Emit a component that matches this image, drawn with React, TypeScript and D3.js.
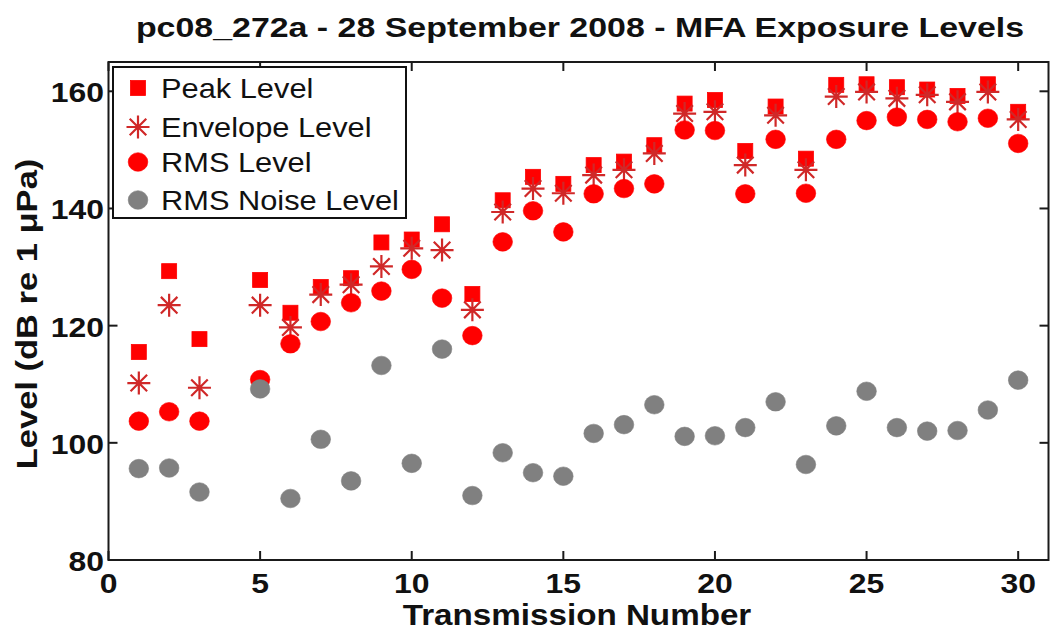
import React from "react";
import * as d3 from "d3";

const transmissions = [1, 2, 3, 5, 6, 7, 8, 9, 10, 11, 12, 13, 14, 15, 16, 17, 18, 19, 20, 21, 22, 23, 24, 25, 26, 27, 28, 29, 30];
const peakLevel = [115.5, 129.3, 117.7, 127.8, 122.2, 126.6, 128.1, 134.2, 134.7, 137.3, 125.4, 141.4, 145.4, 144.2, 147.4, 148.0, 150.8, 157.9, 158.5, 149.8, 157.4, 148.5, 161.1, 161.2, 160.7, 160.3, 159.2, 161.2, 156.5];
const envelopeLevel = [110.2, 123.5, 109.4, 123.5, 119.7, 125.3, 127.0, 130.1, 133.2, 132.9, 122.7, 139.4, 143.4, 142.6, 145.7, 146.6, 149.4, 156.2, 156.5, 147.4, 155.9, 146.6, 159.1, 159.9, 158.8, 159.4, 158.2, 159.9, 155.2];
const rmsLevel = [103.7, 105.3, 103.7, 110.8, 116.9, 120.7, 123.9, 125.9, 129.6, 124.7, 118.3, 134.3, 139.6, 136.0, 142.5, 143.4, 144.2, 153.4, 153.3, 142.5, 151.8, 142.6, 151.8, 155.0, 155.6, 155.2, 154.8, 155.4, 151.1];
const noiseLevel = [95.6, 95.7, 91.6, 109.2, 90.5, 100.6, 93.5, 113.2, 96.5, 116.0, 91.0, 98.3, 94.9, 94.3, 101.6, 103.1, 106.5, 101.1, 101.2, 102.6, 107.0, 96.3, 102.9, 108.8, 102.6, 102.0, 102.1, 105.6, 110.7];
const xTicks = [0, 5, 10, 15, 20, 25, 30];
const yTicks = [80, 100, 120, 140, 160];
const legendLabels = ["Peak Level", "Envelope Level", "RMS Level", "RMS Noise Level"];
const titleText = "pc08_272a - 28 September 2008 - MFA Exposure Levels";
const xLabel = "Transmission Number";
const yLabel = "Level (dB re 1 \u03BCPa)";

const W = 1051;
const H = 632;
const M = { left: 108.5, right: 1048.5, top: 62, bottom: 560 };
const FONT = "'Liberation Sans', Arial, Helvetica, sans-serif";
const RED = "#ff0000";
const STAR = "#d02828";
const GRAY = "#808080";
const SX = 1.15;

const x = d3.scaleLinear().domain([0, 31]).range([M.left, M.right]);
const y = d3.scaleLinear().domain([80, 165]).range([M.bottom, M.top]);

function Square({ cx, cy }: { cx: number; cy: number }) {
  const s = 15;
  return <rect x={cx - s / 2} y={cy - s / 2} width={s} height={s} fill={RED} stroke={RED} strokeWidth={0.8} />;
}
function Star({ cx, cy }: { cx: number; cy: number }) {
  const r = 11.5;
  const d = r * 0.72;
  const p = `M${cx - r},${cy}L${cx + r},${cy}M${cx},${cy - r}L${cx},${cy + r}M${cx - d},${cy - d}L${cx + d},${cy + d}M${cx - d},${cy + d}L${cx + d},${cy - d}`;
  return <path d={p} stroke={STAR} strokeWidth={2.2} fill="none" />;
}
function Dot({ cx, cy, color }: { cx: number; cy: number; color: string }) {
  return <ellipse cx={cx} cy={cy} rx={9.8} ry={9.3} fill={color} stroke={color} strokeWidth={0.6} />;
}

function SText(props: { x: number; y: number; size: number; anchor?: string; weight?: string; children: React.ReactNode; sx?: number }) {
  const { x: tx, y: ty, size, anchor = "start", weight = "bold", children, sx = SX } = props;
  return (
    <text transform={`translate(${tx},${ty}) scale(${sx},1)`} fontSize={size} fontFamily={FONT} fontWeight={weight} textAnchor={anchor} fill="#111">
      {children}
    </text>
  );
}

export default function App() {
  const tickLen = 9;
  const legendX = 113;
  const legendY = 67;
  const legendW = 293;
  const legendH = 151;
  const legendRows = [88, 127, 162, 200];
  const markerX = 138;
  const textX = 161;
  return (
    <svg width={W} height={H} style={{ position: "absolute", left: 0, top: 0, background: "#fff" }}>
      <rect x={0} y={0} width={W} height={H} fill="#fff" />
      {/* title */}
      <SText x={580} y={37} size={28.5} anchor="middle" sx={1.19}>{titleText}</SText>

      {/* data */}
      {transmissions.map((t, i) => <Square key={"p" + i} cx={x(t)} cy={y(peakLevel[i])} />)}
      {transmissions.map((t, i) => <Star key={"e" + i} cx={x(t)} cy={y(envelopeLevel[i])} />)}
      {transmissions.map((t, i) => <Dot key={"r" + i} cx={x(t)} cy={y(rmsLevel[i])} color={RED} />)}
      {transmissions.map((t, i) => <Dot key={"n" + i} cx={x(t)} cy={y(noiseLevel[i])} color={GRAY} />)}

      {/* axes box */}
      <rect x={M.left} y={M.top} width={M.right - M.left} height={M.bottom - M.top} fill="none" stroke="#1a1a1a" strokeWidth={2} />
      {xTicks.map((t) => (
        <g key={"xt" + t}>
          <line x1={x(t)} x2={x(t)} y1={M.bottom} y2={M.bottom - tickLen} stroke="#1a1a1a" strokeWidth={2} />
          <line x1={x(t)} x2={x(t)} y1={M.top} y2={M.top + tickLen} stroke="#1a1a1a" strokeWidth={2} />
          <SText x={x(t)} y={593} size={28} anchor="middle" sx={1.14}>{String(t)}</SText>
        </g>
      ))}
      {yTicks.map((t) => (
        <g key={"yt" + t}>
          <line x1={M.left} x2={M.left + tickLen} y1={y(t)} y2={y(t)} stroke="#1a1a1a" strokeWidth={2} />
          <line x1={M.right} x2={M.right - tickLen} y1={y(t)} y2={y(t)} stroke="#1a1a1a" strokeWidth={2} />
          <SText x={104} y={y(t) + 11} size={28} anchor="end" sx={1.14}>{String(t)}</SText>
        </g>
      ))}

      {/* axis labels */}
      <SText x={577} y={625} size={29} anchor="middle" sx={1.145}>{xLabel}</SText>
      <text transform={`translate(37,${(M.top + M.bottom) / 2 + 3}) rotate(-90) scale(1.19,1)`} fontSize={29} fontFamily={FONT} fontWeight="bold" textAnchor="middle" fill="#111">
        {yLabel}
      </text>

      {/* legend */}
      <rect x={legendX} y={legendY} width={legendW} height={legendH} fill="#fff" stroke="#111" strokeWidth={2} />
      <Square cx={markerX} cy={legendRows[0]} />
      <Star cx={markerX} cy={legendRows[1]} />
      <Dot cx={markerX} cy={legendRows[2]} color={RED} />
      <Dot cx={markerX} cy={legendRows[3]} color={GRAY} />
      {legendLabels.map((l, i) => (
        <SText key={l} x={textX} y={legendRows[i] + 10} size={27.5} anchor="start" weight="normal" sx={1.12}>{l}</SText>
      ))}
    </svg>
  );
}
